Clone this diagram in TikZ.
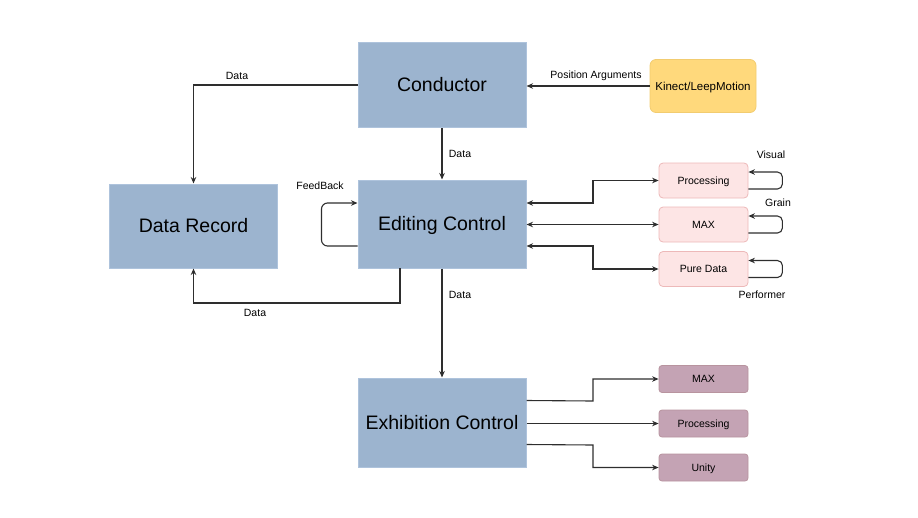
\documentclass[tikz,border=0pt]{standalone}
\usepackage{fontspec}
\setmainfont{Liberation Sans}
\usetikzlibrary{arrows.meta,calc}
\definecolor{bluef}{HTML}{9CB4CF}
\definecolor{blued}{HTML}{AEC3DC}
\definecolor{yelf}{HTML}{FFD97C}
\definecolor{yeld}{HTML}{F2CC70}
\definecolor{pinkf}{HTML}{FDE5E5}
\definecolor{pinkd}{HTML}{EDB9B9}
\definecolor{mauf}{HTML}{C4A3B4}
\definecolor{maud}{HTML}{B8949F}
\definecolor{linec}{HTML}{2E2E2E}
\tikzset{
  bigbox/.style={draw=blued, fill=bluef, line width=1pt, minimum width=168pt, minimum height=85pt, inner sep=0pt, text height=13.96pt, text depth=0pt, font=\fontsize{19.5}{22}\selectfont},
  yelbox/.style={draw=yeld, fill=yelf, rounded corners=6pt, line width=0.8pt, minimum width=106pt, minimum height=53pt, inner sep=0pt, text height=8.23pt, text depth=0pt, font=\fontsize{11.5}{13}\selectfont},
  pinkbox/.style={draw=pinkd, fill=pinkf, rounded corners=4pt, line width=0.8pt, minimum width=89pt, minimum height=35pt, inner sep=0pt, text height=7.52pt, text depth=0pt, font=\fontsize{10.5}{12}\selectfont},
  maubox/.style={draw=maud, fill=mauf, rounded corners=3pt, line width=0.8pt, minimum width=89pt, minimum height=27pt, inner sep=0pt, text height=7.52pt, text depth=0pt, font=\fontsize{10.5}{12}\selectfont},
  arr/.style={draw=linec, line width=1.1pt, -{Stealth[length=6.5pt,width=5.5pt]}},
  darr/.style={draw=linec, line width=1.1pt, {Stealth[length=6.5pt,width=5.5pt]}-{Stealth[length=6.5pt,width=5.5pt]}},
  lbl/.style={font=\fontsize{10.5}{12}\selectfont, inner sep=1pt}
}
\begin{document}
\begin{tikzpicture}[x=1pt,y=-1pt]
\useasboundingbox (0,0) rectangle (918,517);
% nodes
\node[bigbox] (cond) at (442,85) {Conductor};
\node[yelbox] (kin) at (703,86) {Kinect/LeepMotion};
\node[bigbox, minimum height=84pt] (rec) at (193.5,226) {Data Record};
\node[bigbox, minimum height=88pt] (edit) at (442,224) {Editing Control};
\node[bigbox, minimum height=89pt] (exh) at (442,422.5) {Exhibition Control};
\node[pinkbox] (p1) at (703.5,180.5) {Processing};
\node[pinkbox] (p2) at (703.5,224.5) {MAX};
\node[pinkbox] (p3) at (703.5,269) {Pure Data};
\node[maubox] (m1) at (703.5,379) {MAX};
\node[maubox] (m2) at (703.5,423.5) {Processing};
\node[maubox] (m3) at (703.5,467.5) {Unity};
% connectors
\draw[arr] (kin.west) -- (kin.west -| cond.east);
\node[lbl] (lpos) at (596,76) {Position Arguments};
\draw[arr] (cond.west) -| (rec.north);
\node[lbl] (ld1) at (237,76) {Data};
\draw[arr] (cond.south) -- (edit.north);
\node[lbl] (ld2) at (460,154) {Data};
\coordinate (eb) at (400,268);
\draw[arr] (eb) -- (400,303) -| (rec.south);
\node[lbl] (ld3) at (255,313) {Data};
\draw[arr] (edit.south) -- (exh.north);
\node[lbl] (ld4) at (460,295) {Data};
% feedback
\draw[arr, rounded corners=6pt] ([yshift=-22pt]edit.west) -- ++(-36,0) -- ++(0,-43) -- ([yshift=21pt]edit.west);
\node[lbl] (lfb) at (320,186) {FeedBack};
% editing to pink boxes
\draw[darr] ([yshift=21pt]edit.east) -- (593,203) |- (p1.west);
\draw[darr] ([yshift=-0.5pt]edit.east) -- (p2.west);
\draw[darr] ([yshift=-22pt]edit.east) -- (593,246) |- (p3.west);
% self loops
\draw[arr, rounded corners=5pt] ([yshift=-8.5pt]p1.east) -- ++(34,0) -- ++(0,-17) -- ([yshift=8.5pt]p1.east);
\draw[arr, rounded corners=5pt] ([yshift=-8.5pt]p2.east) -- ++(34,0) -- ++(0,-17) -- ([yshift=8.5pt]p2.east);
\draw[arr, rounded corners=5pt] ([yshift=-8.5pt]p3.east) -- ++(34,0) -- ++(0,-17) -- ([yshift=8.5pt]p3.east);
\node[lbl] (lv) at (771,155) {Visual};
\node[lbl] (lg) at (778,203) {Grain};
\node[lbl] (lp) at (762,295) {Performer};
% exhibition outputs
\draw[arr] ([yshift=22pt]exh.east) -- (593,401) |- (m1.west);
\draw[arr] (m2.west -| exh.east) -- (m2.west);
\draw[arr] ([yshift=-22pt]exh.east) -- (593,445) |- (m3.west);
\end{tikzpicture}
\end{document}
